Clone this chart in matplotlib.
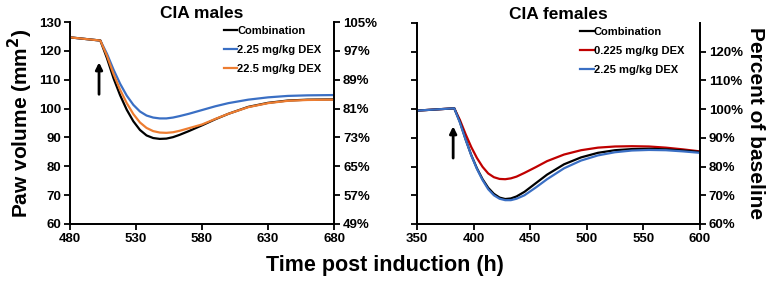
import matplotlib
matplotlib.use("Agg")
import matplotlib.pyplot as plt

plt.rcParams['font.family'] = ['Liberation Sans', 'DejaVu Sans']
plt.rcParams['font.weight'] = 'bold'

# ---- CIA males data (paw volume, mm^2) ----
males_t = [480, 503, 508, 513, 518, 523, 528, 533, 538, 543, 548, 553, 558, 563, 570,
           580, 590, 600, 615, 630, 645, 660, 680]
males_comb = [124.7, 123.6, 117.5, 110.5, 104.6, 99.6, 95.6, 92.6, 90.7, 89.8, 89.5, 89.6,
              90.1, 90.9, 92.2, 94.2, 96.3, 98.2, 100.6, 102.0, 102.8, 103.1, 103.2]
males_dex225 = [124.7, 123.6, 119.0, 113.5, 108.6, 104.5, 101.3, 99.0, 97.6, 96.9, 96.6, 96.6,
                96.9, 97.4, 98.2, 99.5, 100.8, 101.9, 103.1, 103.9, 104.4, 104.6, 104.7]
males_dex2250 = [124.7, 123.6, 118.3, 112.0, 106.5, 101.9, 98.1, 95.2, 93.3, 92.2, 91.7, 91.6,
                 91.8, 92.3, 93.2, 94.5, 96.4, 98.2, 100.5, 101.9, 102.7, 103.0, 103.1]
males_yticks = [60, 70, 80, 90, 100, 110, 120, 130]
males_pct_labels = ['49%', '57%', '65%', '73%', '81%', '89%', '97%', '105%']
males_xticks = [480, 530, 580, 630, 680]
males_arrow = (502, 104, 117)

# ---- CIA females data (percent of baseline) ----
fem_t = [350, 383, 388, 393, 398, 403, 408, 413, 418, 423, 428, 433, 438, 445, 455,
         465, 480, 495, 510, 525, 540, 555, 570, 585, 600]
fem_comb = [99.5, 100.3, 95.5, 89.5, 84.0, 79.4, 75.6, 72.6, 70.5, 69.2, 68.7, 68.9, 69.6, 71.2,
            74.2, 77.2, 80.8, 83.2, 84.8, 85.7, 86.1, 86.2, 86.0, 85.6, 85.1]
fem_dex0225 = [99.5, 100.3, 96.2, 91.3, 86.8, 83.0, 79.9, 77.6, 76.3, 75.7, 75.6, 75.9, 76.5, 77.8,
               79.8, 81.9, 84.2, 85.7, 86.6, 87.0, 87.1, 87.0, 86.6, 86.0, 85.3]
fem_dex225 = [99.5, 100.3, 95.3, 89.4, 83.9, 79.2, 75.3, 72.1, 70.0, 68.8, 68.3, 68.3, 68.8, 70.0,
              72.7, 75.6, 79.4, 82.1, 83.9, 85.0, 85.6, 85.8, 85.7, 85.3, 84.8]
fem_yticks = [60, 70, 80, 90, 100, 110, 120, 130]
fem_pct_ticks = [60, 70, 80, 90, 100, 110, 120]
fem_pct_labels = ['60%', '70%', '80%', '90%', '100%', '110%', '120%']
fem_xticks = [350, 400, 450, 500, 550, 600]
fem_arrow = (382, 82, 95)

BLUE = '#3A6FC4'
ORANGE = '#ED7D31'
RED = '#C00000'

fig = plt.figure(figsize=(7.75, 2.83), dpi=100)

def style(ax):
    ax.spines['top'].set_visible(False)
    for s in ['left', 'right', 'bottom']:
        ax.spines[s].set_linewidth(1.3)
    ax.tick_params(direction='out', width=1.3, length=4, labelsize=9.5, pad=2.5)
    for lab in ax.get_xticklabels() + ax.get_yticklabels():
        lab.set_fontweight('bold')

# Left panel
ax1 = fig.add_axes([0.0903, 0.2085, 0.3407, 0.7135])
ax1.plot(males_t, males_comb, color='black', lw=1.6, label='Combination', zorder=3)
ax1.plot(males_t, males_dex225, color=BLUE, lw=1.6, label='2.25 mg/kg DEX', zorder=2)
ax1.plot(males_t, males_dex2250, color=ORANGE, lw=1.6, label='22.5 mg/kg DEX', zorder=4)
ax1.set_xlim(480, 680)
ax1.set_ylim(60, 130)
ax1.set_xticks(males_xticks)
ax1.set_yticks(males_yticks)
ax1.annotate('', xy=(males_arrow[0], males_arrow[2]), xytext=(males_arrow[0], males_arrow[1]),
             arrowprops=dict(arrowstyle='-|>', color='black', lw=2, mutation_scale=10))
ax1.set_title('CIA males', fontsize=12.5, fontweight='bold', pad=3)
ax1.set_ylabel('Paw volume (mm$^\\mathbf{2}$)', fontsize=15, fontweight='bold', labelpad=3)
leg1 = ax1.legend(loc='upper right', frameon=False, fontsize=8, handlelength=1.2,
                  handletextpad=0.0, labelspacing=0.8, bbox_to_anchor=(0.99, 1.03))
for t in leg1.get_texts():
    t.set_fontweight('bold')
style(ax1)
ax1r = ax1.twinx()
ax1r.set_ylim(60, 130)
ax1r.set_yticks(males_yticks)
ax1r.set_yticklabels(males_pct_labels)
style(ax1r)

# Right panel
ax2 = fig.add_axes([0.538, 0.2085, 0.365, 0.71])
ax2.plot(fem_t, fem_comb, color='black', lw=1.6, label='Combination', zorder=3)
ax2.plot(fem_t, fem_dex0225, color=RED, lw=1.6, label='0.225 mg/kg DEX', zorder=2)
ax2.plot(fem_t, fem_dex225, color=BLUE, lw=1.6, label='2.25 mg/kg DEX', zorder=4)
ax2.set_xlim(350, 600)
ax2.set_ylim(60, 130)
ax2.set_xticks(fem_xticks)
ax2.set_yticks(fem_yticks)
ax2.set_yticklabels([])
ax2.annotate('', xy=(fem_arrow[0], fem_arrow[2]), xytext=(fem_arrow[0], fem_arrow[1]),
             arrowprops=dict(arrowstyle='-|>', color='black', lw=2, mutation_scale=10))
ax2.set_title('CIA females', fontsize=12.5, fontweight='bold', pad=3)
leg2 = ax2.legend(loc='upper right', frameon=False, fontsize=8, handlelength=1.2,
                  handletextpad=0.0, labelspacing=0.8, bbox_to_anchor=(0.98, 1.03))
for t in leg2.get_texts():
    t.set_fontweight('bold')
style(ax2)
ax2r = ax2.twinx()
ax2r.set_ylim(60, 130)
ax2r.set_yticks(fem_pct_ticks)
ax2r.set_yticklabels(fem_pct_labels)
ax2r.set_ylabel('Percent of baseline', fontsize=15, fontweight='bold', rotation=-90, labelpad=16)
style(ax2r)

fig.text(0.497, 0.025, 'Time post induction (h)', ha='center', va='bottom', fontsize=15.5,
         fontweight='bold')

fig.savefig('out.png', dpi=100)
